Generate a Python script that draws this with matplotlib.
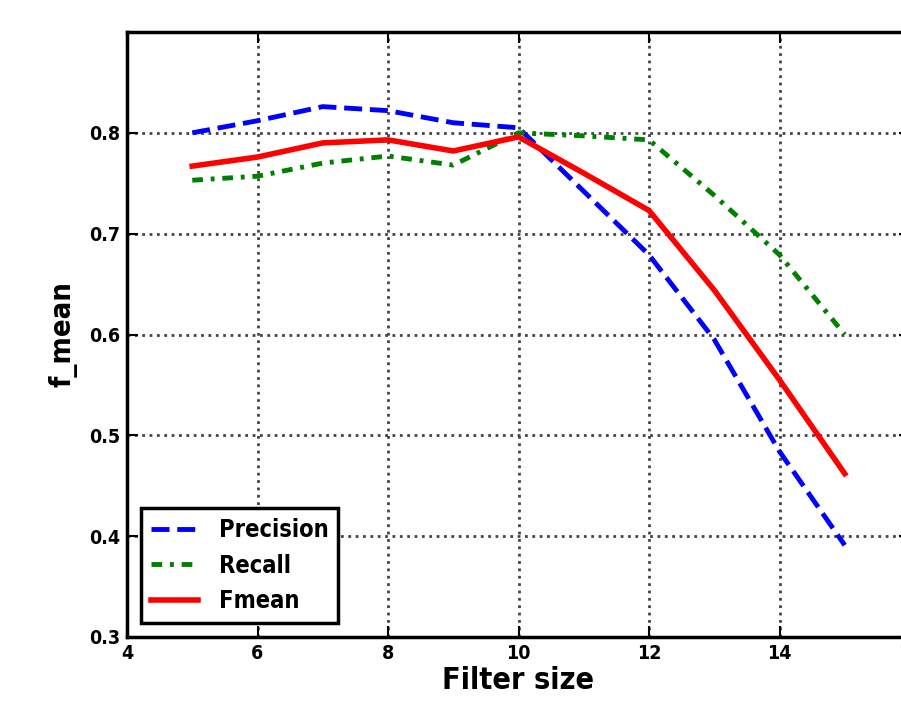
import matplotlib
matplotlib.use("Agg")
import matplotlib.pyplot as plt
from matplotlib import font_manager

filter_size = [5, 6, 7, 8, 9, 10, 11, 12, 13, 14, 15]
precision = [0.800, 0.812, 0.826, 0.822, 0.810, 0.805, 0.742, 0.679, 0.595, 0.484, 0.391]
recall = [0.753, 0.757, 0.770, 0.777, 0.768, 0.800, 0.797, 0.793, 0.738, 0.679, 0.600]
fmean = [0.767, 0.776, 0.790, 0.793, 0.782, 0.796, 0.760, 0.723, 0.644, 0.555, 0.462]

fam = 'DejaVu Sans'
stretch = 'condensed' if any(f.name == 'DejaVu Sans' and f.stretch == 'condensed'
                             for f in font_manager.fontManager.ttflist) else 'normal'

plt.rcParams['font.family'] = [fam]
plt.rcParams['font.weight'] = 'bold'
plt.rcParams['font.stretch'] = stretch

fig = plt.figure(figsize=(9.01, 7.03), dpi=100)
ax = fig.add_axes([127/901, 1-637/703, (910-127)/901, (637-32)/703])

ax.plot(filter_size, precision, color='blue', linestyle='--', linewidth=3.5, label='Precision')
ax.plot(filter_size, recall, color='green', linestyle=(0, (2.2, 1.6, 0.8, 1.6)), linewidth=3.5, label='Recall')
ax.plot(filter_size, fmean, color='red', linestyle='-', linewidth=4, label='Fmean')

ax.set_xlim(4, 16)
ax.set_ylim(0.3, 0.9)
ax.set_xticks([4, 6, 8, 10, 12, 14, 16])
ax.set_yticks([0.3, 0.4, 0.5, 0.6, 0.7, 0.8])
ax.grid(True, color='#444444', linestyle=':', linewidth=2)
for s in ax.spines.values():
    s.set_linewidth(2.5)
ax.tick_params(direction='in', length=8, width=1.5, labelsize=14, top=True, right=True, pad=5)
for lbl in ax.get_xticklabels() + ax.get_yticklabels():
    lbl.set_fontweight('bold')

ax.set_xlabel('Filter size', fontsize=22, fontweight='bold', labelpad=2)
ax.set_ylabel('f_mean', fontsize=21, fontweight='bold', labelpad=8)

leg = ax.legend(loc='lower left', prop={'size': 17, 'weight': 'bold'}, fancybox=False,
                framealpha=1, edgecolor='black', borderaxespad=0.6, handlelength=2.0,
                handletextpad=0.9, labelspacing=0.5)
leg.get_frame().set_linewidth(2.5)

fig.savefig('out.png', dpi=100)
